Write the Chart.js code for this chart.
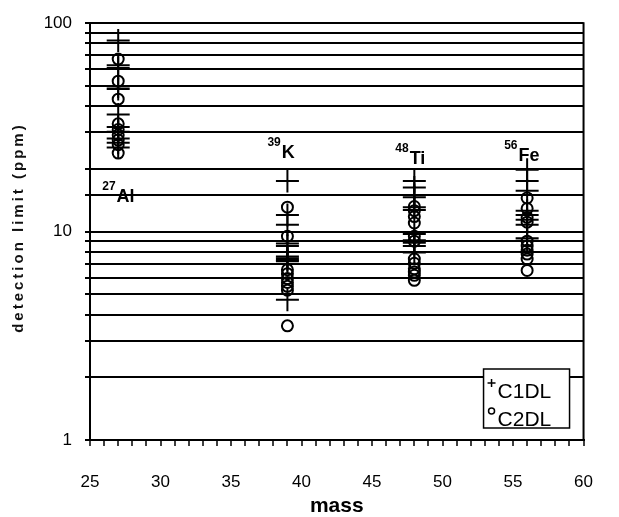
<!DOCTYPE html>
<html>
<head>
<meta charset="utf-8">
<script src="https://cdn.jsdelivr.net/npm/chart.js@4.4.1/dist/chart.umd.min.js"></script>
<style>
html,body{margin:0;padding:0;background:#fff;}
#wrap{width:619px;height:517px;position:relative;}
</style>
</head>
<body>
<div id="wrap"><canvas id="c" width="619" height="517"></canvas></div>
<script>
// ---- data ----
const elements = ['Al', 'K', 'Ti', 'Fe'];
const isotopes = ['27', '39', '48', '56'];
const masses = [27, 39, 48, 56];

const c1dlAl = [82.6, 62.8, 61.0, 49.7, 48.3, 36.5, 31.8, 30.1, 28.0, 26.7, 25.3];
const c1dlK  = [17.5, 12.0, 10.8, 8.76, 8.53, 7.6, 7.45, 7.3, 7.2, 4.71];
const c1dlTi = [17.5, 16.3, 15.0, 14.6, 13.1, 12.7, 9.75, 9.1, 8.85, 8.53, 7.94];
const c1dlFe = [19.8, 17.5, 15.7, 12.6, 12.0, 11.4, 10.8, 9.3, 9.05];

const c2dlAl = [67.3, 52.7, 43.2, 32.9, 30.9, 29.1, 27.5, 26.1, 23.8];
const c2dlK  = [13.1, 9.5, 6.56, 6.28, 5.95, 5.70, 5.46, 5.23, 3.53];
const c2dlTi = [13.2, 12.6, 11.8, 11.0, 9.5, 9.0, 7.39, 7.05, 6.63, 6.40, 6.17, 5.84];
const c2dlFe = [14.5, 12.9, 11.7, 11.1, 9.0, 8.53, 8.14, 7.80, 7.39, 6.51];

const seriesNames = ['C1DL', 'C2DL'];
const xTickLabels = [25, 30, 35, 40, 45, 50, 55, 60];
const yTickLabels = [1, 10, 100];
const xTitle = 'mass';
const yTitle = 'detection limit (ppm)';

// ---- build ----
function pts(mass, vals) { return vals.map(v => ({x: mass, y: v})); }
const c1 = [c1dlAl, c1dlK, c1dlTi, c1dlFe];
const c2 = [c2dlAl, c2dlK, c2dlTi, c2dlFe];
const c1Points = [].concat(...masses.map((m, i) => pts(m, c1[i])));
const c2Points = [].concat(...masses.map((m, i) => pts(m, c2[i])));

const FONT = '"Liberation Sans", Arial, Helvetica, sans-serif';

// label placement (value on the y scale for the baseline, pixel offset from the mass column)
const labelPlacement = [
  {anchorY: 13.8, dx: -16},
  {anchorY: 22.5, dx: -20},
  {anchorY: 21.1, dx: -19},
  {anchorY: 21.8, dx: -23}
];

const elementLabels = {
  id: 'elementLabels',
  afterDatasetsDraw(chart) {
    const {ctx, scales: {x, y}} = chart;
    ctx.save();
    ctx.fillStyle = '#000';
    ctx.textBaseline = 'alphabetic';
    ctx.textAlign = 'left';
    elements.forEach((el, i) => {
      const p = labelPlacement[i];
      const px = x.getPixelForValue(masses[i]) + p.dx;
      const py = y.getPixelForValue(p.anchorY);
      ctx.font = 'bold 12px ' + FONT;
      const w = ctx.measureText(isotopes[i]).width;
      ctx.fillText(isotopes[i], px, py - 12);
      ctx.font = 'bold 18px ' + FONT;
      ctx.fillText(el, px + w + 1, py);
    });
    ctx.restore();
  }
};

const rightBorder = {
  id: 'rightBorder',
  beforeDatasetsDraw(chart) {
    const {ctx, chartArea: a} = chart;
    ctx.save();
    ctx.strokeStyle = '#000';
    ctx.lineWidth = 2;
    ctx.beginPath();
    ctx.moveTo(a.right, a.top - 1);
    ctx.lineTo(a.right, a.bottom);
    ctx.stroke();
    ctx.restore();
  }
};

const boxLegend = {
  id: 'boxLegend',
  afterDraw(chart) {
    const {ctx, chartArea: a} = chart;
    const bx = a.right - 100, by = a.bottom - 71, bw = 86, bh = 59;
    ctx.save();
    ctx.fillStyle = '#fff';
    ctx.fillRect(bx, by, bw, bh);
    ctx.strokeStyle = '#000';
    ctx.lineWidth = 1.5;
    ctx.strokeRect(bx, by, bw, bh);
    ctx.fillStyle = '#000';
    ctx.font = '21px ' + FONT;
    ctx.textBaseline = 'alphabetic';
    ctx.textAlign = 'left';
    const ds = chart.data.datasets;
    ctx.lineWidth = 1.5;
    ctx.beginPath();
    ctx.moveTo(bx + 4, by + 14); ctx.lineTo(bx + 12, by + 14);
    ctx.moveTo(bx + 8, by + 10); ctx.lineTo(bx + 8, by + 18);
    ctx.stroke();
    ctx.fillText(ds[0].label, bx + 14, by + 29);
    ctx.beginPath();
    ctx.arc(bx + 8, by + 42, 3, 0, Math.PI * 2);
    ctx.stroke();
    ctx.fillText(ds[1].label, bx + 14, by + 57);
    ctx.restore();
  }
};

const yTitlePlugin = {
  id: 'yTitlePlugin',
  afterDraw(chart) {
    const {ctx, chartArea: a} = chart;
    ctx.save();
    ctx.fillStyle = '#111';
    ctx.font = 'bold 15px ' + FONT;
    ctx.letterSpacing = '3px';
    ctx.textAlign = 'center';
    ctx.textBaseline = 'middle';
    ctx.translate(19, (a.top + a.bottom) / 2 - 4);
    ctx.rotate(-Math.PI / 2);
    ctx.fillText(yTitle, 0, 0);
    ctx.restore();
  }
};

new Chart(document.getElementById('c'), {
  type: 'scatter',
  data: {
    datasets: [
      {
        label: seriesNames[0],
        data: c1Points,
        pointStyle: 'cross',
        pointRadius: 11.5,
        pointBorderWidth: 2,
        borderColor: '#000',
        backgroundColor: '#000'
      },
      {
        label: seriesNames[1],
        data: c2Points,
        pointStyle: 'circle',
        pointRadius: 5.5,
        pointBorderWidth: 2,
        borderColor: '#000',
        backgroundColor: 'rgba(0,0,0,0)'
      }
    ]
  },
  options: {
    responsive: false,
    devicePixelRatio: 1,
    animation: false,
    events: [],
    layout: {padding: {left: 0, right: 12, top: 14, bottom: 0}},
    plugins: {legend: {display: false}, tooltip: {enabled: false}},
    scales: {
      x: {
        type: 'linear',
        min: 25, max: 60,
        afterFit(s) { s.height = 77; },
        ticks: {
          stepSize: 1,
          autoSkip: false,
          maxRotation: 0,
          padding: 26,
          color: '#000',
          font: {family: FONT, size: 17},
          callback: v => xTickLabels.includes(v) ? String(v) : ''
        },
        grid: {drawOnChartArea: false, drawTicks: true, tickLength: 6, tickWidth: 1.5, color: '#000', lineWidth: 2},
        border: {display: true, color: '#000', width: 2},
        title: {display: true, text: xTitle, color: '#000', font: {family: FONT, size: 21, weight: 'bold', lineHeight: 1.0}, padding: {top: 0, bottom: 0}}
      },
      y: {
        type: 'logarithmic',
        min: 1, max: 100,
        afterFit(s) { s.width = 90; },
        ticks: {
          autoSkip: false,
          padding: 13,
          color: '#000',
          font: {family: FONT, size: 17},
          callback: v => yTickLabels.includes(v) ? String(v) : ''
        },
        grid: {color: '#000', lineWidth: 2, tickLength: 5},
        border: {display: true, color: '#000', width: 2},
        title: {display: false}
      }
    }
  },
  plugins: [rightBorder, elementLabels, boxLegend, yTitlePlugin]
});
</script>
</body>
</html>
